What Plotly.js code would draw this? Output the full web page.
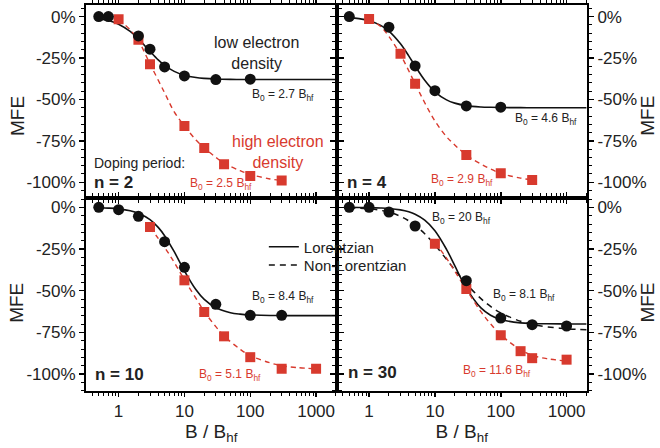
<!DOCTYPE html>
<html>
<head>
<meta charset="utf-8">
<script src="https://cdn.plot.ly/plotly-3.0.1.min.js"></script>
<style>html,body{margin:0;padding:0;background:#fff;}#chart{width:660px;height:448px;}</style>
</head>
<body>
<div id="chart"></div>
<script>
// ---------- data ----------
const xTickVals = [1, 10, 100, 1000];
const xTickText = ['1', '10', '100', '1000'];
const yTickVals = [0, -25, -50, -75, -100];
const yTickText = ['0%', '-25%', '-50%', '-75%', '-100%'];

// measured points: low electron density (black circles)
const n2LowB = [0.5, 0.7, 2, 3, 5, 10, 30, 100];
const n2LowMFE = [0, 0, -11.7, -19.7, -30.4, -35.8, -38, -37.8];
const n4LowB = [0.5, 2, 5, 10, 30, 100];
const n4LowMFE = [0, -6.4, -29.8, -44.7, -53.9, -54.7];
const n10LowB = [0.5, 1, 2, 5, 10, 30, 100, 300];
const n10LowMFE = [0, -1.4, -5.4, -20.6, -36, -58.2, -64.8, -64.8];
const n30LowB = [0.5, 1, 2, 5, 30, 100, 300, 1000];
const n30LowMFE = [0, 0, -2.8, -11.2, -44, -66.4, -70.4, -71.2];

// measured points: high electron density (red squares)
const n2HighB = [1, 2, 3, 10, 20, 40, 100, 300];
const n2HighMFE = [-1.6, -14, -28.8, -66, -79.3, -89.1, -96.2, -99];
const n4HighB = [1, 3, 5, 30, 100, 300];
const n4HighMFE = [-1.4, -22.5, -40.6, -83.5, -94.6, -98.6];
const n10HighB = [3, 10, 20, 40, 100, 300, 1000];
const n10HighMFE = [-11.8, -43.8, -62.8, -77.4, -89.9, -96.8, -96.8];
const n30HighB = [10, 30, 100, 200, 300, 1000];
const n30HighMFE = [-21.8, -49, -76.7, -86.3, -90.5, -91.4];

// fitted curves
const fitB = [0.5, 0.7, 1, 1.5, 2, 3, 4, 5, 7, 10, 15, 20, 30, 50, 70, 100, 200, 300, 500, 1000, 2000];
const n2LorFit = [-1.26, -2.39, -4.58, -8.96, -13.46, -21.0, -26.1, -29.42, -33.08, -35.42, -36.81, -37.32, -37.69, -37.89, -37.94, -37.97, -37.99, -38, -38, -38, -38];
const n4LorFit = [-0.64, -1.24, -2.48, -5.29, -8.74, -16.41, -23.68, -29.79, -38.41, -45.4, -50.27, -52.24, -53.74, -54.54, -54.76, -54.88, -54.97, -54.99, -55, -55, -55];
const n10LorFit = [-0.23, -0.45, -0.91, -2.01, -3.49, -7.35, -12.01, -17.01, -26.64, -38.11, -49.48, -55.25, -60.27, -63.22, -64.08, -64.54, -64.89, -64.95, -64.98, -65, -65];
const n30LorFit = [-0.04, -0.09, -0.17, -0.39, -0.69, -1.54, -2.69, -4.12, -7.64, -14.0, -25.2, -35.0, -48.46, -60.34, -64.72, -67.31, -69.31, -69.69, -69.89, -69.97, -69.99];
const n30NonLorFit = [-0.25, -0.47, -0.89, -1.81, -2.9, -5.4, -8.09, -10.78, -15.9, -22.59, -31.2, -37.49, -45.88, -54.8, -59.45, -63.32, -68.35, -70.16, -71.66, -72.82, -73.4];

const n2HighFitB = [1, 1.5, 2, 3, 5, 7, 10, 15, 20, 30, 40, 70, 100, 200, 300];
const n2HighFit = [-2, -8, -14.5, -28.5, -46, -57.5, -66, -74.5, -79.3, -85, -88.5, -93, -95.3, -98, -99];
const n4HighFitB = [1, 1.5, 2, 3, 5, 7, 10, 15, 20, 30, 50, 100, 200, 300];
const n4HighFit = [-1.5, -6, -12, -23, -40.5, -52, -63, -72.5, -77.5, -83.5, -89, -94.6, -97.5, -98.6];
const n10HighFitB = [3, 5, 7, 10, 15, 20, 30, 40, 70, 100, 200, 300, 500, 1000];
const n10HighFit = [-12, -24, -33, -43.5, -54.6, -62.5, -71.6, -77.2, -85.1, -89, -93.3, -95, -96.1, -96.9];
const n30HighFitB = [10, 15, 20, 30, 50, 70, 100, 200, 300, 500, 1000];
const n30HighFit = [-21, -30.5, -38.3, -49.3, -62.6, -69.9, -76.5, -85.5, -88.8, -90.8, -92.2];

// ---------- styling ----------
const RED = '#d83a2e';
const BLACK = '#111111';
const FONT = 'Liberation Sans, Arial, Helvetica, sans-serif';

function lorLine(x, y, xa, ya, extra) {
  return Object.assign({x: x, y: y, xaxis: xa, yaxis: ya, mode: 'lines', type: 'scatter',
    line: {color: BLACK, width: 1.6, shape: 'spline', smoothing: 1}, showlegend: false, hoverinfo: 'skip'}, extra || {});
}
function redLine(x, y, xa, ya) {
  return {x: x, y: y, xaxis: xa, yaxis: ya, mode: 'lines', type: 'scatter',
    line: {color: RED, width: 1.4, dash: '5px,4px', shape: 'spline', smoothing: 1}, showlegend: false, hoverinfo: 'skip'};
}
function redPts(x, y, xa, ya) {
  return {x: x, y: y, xaxis: xa, yaxis: ya, mode: 'markers', type: 'scatter',
    marker: {symbol: 'square', size: 10, color: RED}, showlegend: false};
}
function blackPts(x, y, xa, ya) {
  return {x: x, y: y, xaxis: xa, yaxis: ya, mode: 'markers', type: 'scatter',
    marker: {symbol: 'circle', size: 11, color: BLACK}, showlegend: false};
}

const traces = [
  lorLine(fitB, n2LorFit, 'x', 'y'),
  redLine(n2HighFitB, n2HighFit, 'x', 'y'),
  lorLine(fitB, n4LorFit, 'x2', 'y2'),
  redLine(n4HighFitB, n4HighFit, 'x2', 'y2'),
  lorLine(fitB, n10LorFit, 'x3', 'y3'),
  redLine(n10HighFitB, n10HighFit, 'x3', 'y3'),
  lorLine(fitB, n30LorFit, 'x4', 'y4', {name: 'Lorentzian', showlegend: true, legend: 'legend'}),
  lorLine(fitB, n30NonLorFit, 'x4', 'y4', {name: 'Non-Lorentzian', showlegend: true, legend: 'legend2',
    line: {color: BLACK, width: 1.5, dash: '6px,5px', shape: 'spline', smoothing: 1}}),
  redLine(n30HighFitB, n30HighFit, 'x4', 'y4'),
  redPts(n2HighB, n2HighMFE, 'x', 'y'),
  redPts(n4HighB, n4HighMFE, 'x2', 'y2'),
  redPts(n10HighB, n10HighMFE, 'x3', 'y3'),
  redPts(n30HighB, n30HighMFE, 'x4', 'y4'),
  blackPts(n2LowB, n2LowMFE, 'x', 'y'),
  blackPts(n4LowB, n4LowMFE, 'x2', 'y2'),
  blackPts(n10LowB, n10LowMFE, 'x3', 'y3'),
  blackPts(n30LowB, n30LowMFE, 'x4', 'y4')
];

function xAxis(domain, anchor, labels) {
  return {type: 'log', domain: domain, anchor: anchor, range: [-0.495, 3.31],
    showline: true, linewidth: 2, linecolor: 'black', mirror: 'ticks',
    ticks: 'outside', ticklen: 4, tickwidth: 1.5, tickcolor: 'black',
    tickmode: 'array', tickvals: xTickVals, ticktext: xTickText,
    showticklabels: labels, tickfont: {size: 17, color: '#222'},
    minor: {ticks: 'outside', ticklen: 3, tickwidth: 1, tickcolor: 'black', dtick: 'D1'},
    showgrid: false, zeroline: false,
    title: labels ? {text: 'B / B<sub>hf</sub>', font: {size: 19, color: '#222'}, standoff: 2} : {text: ''}};
}
function yAxis(domain, anchor, range, side) {
  return {domain: domain, anchor: anchor, range: range, side: side,
    showline: true, linewidth: 2, linecolor: 'black', mirror: 'ticks',
    ticks: 'outside', ticklen: 5, tickwidth: 1.5, tickcolor: 'black',
    tickmode: 'array', tickvals: yTickVals, ticktext: yTickText,
    tickfont: {size: 17, color: '#222'},
    minor: {ticks: 'outside', ticklen: 3, tickwidth: 1, tickcolor: 'black', dtick: 5, tick0: 0},
    showgrid: false, zeroline: false};
}

function B0(val) { return 'B<sub>0</sub> = ' + val + ' B<sub>hf</sub>'; }
function ann(text, x, y, color, size, xanchor, bold) {
  return {text: bold ? '<b>' + text + '</b>' : text, x: x, y: y, xref: 'paper', yref: 'paper',
    xanchor: xanchor || 'center', yanchor: 'middle', showarrow: false,
    font: {size: size, color: color, family: FONT}};
}
function mfe(x, y) {
  return {text: 'MFE', x: x, y: y, xref: 'paper', yref: 'paper', xanchor: 'center', yanchor: 'middle',
    textangle: -90, showarrow: false, font: {size: 19, color: '#222', family: FONT}};
}
function legendBox(y) {
  return {x: 0.355, y: y, xanchor: 'left', yanchor: 'middle', bgcolor: 'rgba(0,0,0,0)',
    font: {size: 15, color: '#222'}, tracegroupgap: 0, itemwidth: 30, borderwidth: 0};
}

const layout = {
  width: 660, height: 448,
  margin: {l: 86, r: 73, t: 5, b: 57},
  paper_bgcolor: 'white', plot_bgcolor: 'white',
  font: {family: FONT, color: '#222'},
  xaxis: xAxis([0, 0.5], 'y', false),
  yaxis: yAxis([0.5, 1], 'x', [-109.5, 7], 'left'),
  xaxis2: xAxis([0.5, 1], 'y2', false),
  yaxis2: yAxis([0.5, 1], 'x2', [-109.5, 7], 'right'),
  xaxis3: xAxis([0, 0.5], 'y3', true),
  yaxis3: yAxis([0, 0.5], 'x3', [-110.2, 5.6], 'left'),
  xaxis4: xAxis([0.5, 1], 'y4', true),
  yaxis4: yAxis([0, 0.5], 'x4', [-110.2, 5.6], 'right'),
  showlegend: true,
  legend: legendBox(0.373),
  legend2: legendBox(0.326),
  annotations: [
    mfe(-0.138, 0.712),
    mfe(-0.138, 0.228),
    mfe(1.121, 0.712),
    mfe(1.121, 0.228),
    ann('low electron<br>density', 0.341, 0.876, '#222', 16),
    ann('high electron<br>density', 0.383, 0.618, RED, 16),
    ann('Doping period:', 0.012, 0.591, '#222', 14, 'left'),
    ann('n = 2', 0.012, 0.541, '#222', 17, 'left', true),
    ann(B0('2.7'), 0.393, 0.767, '#222', 12),
    ann(B0('2.5'), 0.269, 0.536, RED, 12),
    ann(B0('4.6'), 0.918, 0.705, '#222', 12),
    ann('n = 4', 0.517, 0.539, '#222', 17, 'left', true),
    ann(B0('2.9'), 0.750, 0.547, RED, 12),
    ann(B0('8.4'), 0.393, 0.244, '#222', 12),
    ann('n = 10', 0.014, 0.044, '#222', 17, 'left', true),
    ann(B0('5.1'), 0.287, 0.041, RED, 12),
    ann(B0('20'), 0.750, 0.448, '#222', 12),
    ann(B0('8.1'), 0.874, 0.249, '#222', 12),
    ann('n = 30', 0.519, 0.047, '#222', 17, 'left', true),
    ann(B0('11.6'), 0.820, 0.052, RED, 12)
  ]
};

Plotly.newPlot('chart', traces, layout, {staticPlot: true, displayModeBar: false});
</script>
</body>
</html>
